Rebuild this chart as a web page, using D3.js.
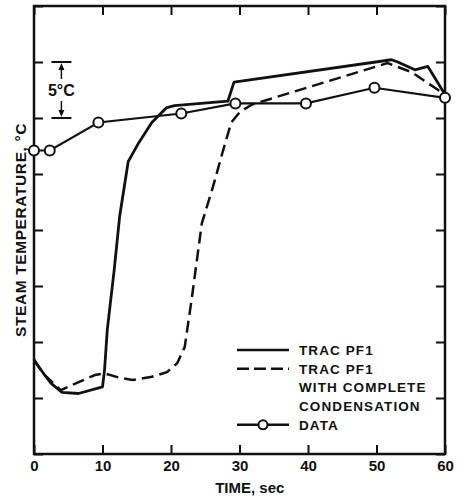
<!DOCTYPE html>
<html>
<head>
<meta charset="utf-8">
<script src="https://cdn.jsdelivr.net/npm/d3@7/dist/d3.min.js"></script>
<style>
  html, body { margin: 0; padding: 0; background: #fff; }
  svg { display: block; }
  text { font-family: "Liberation Sans", Arial, sans-serif; font-weight: bold; fill: #111; }
</style>
</head>
<body>
<svg id="chart" width="465" height="500"></svg>
<script>
// ---- data (time in sec, temperature in °C relative to bottom of frame) ----
const xTickValues = [0, 10, 20, 30, 40, 50, 60];
const yTickValues = [0, 5, 10, 15, 20, 25, 30, 35, 40];

const tracTime = [0, 1.5, 2.5, 4.1, 6.5, 10, 10.3, 10.7, 11.7, 12.5, 13.75, 15.3, 17.2, 19.3, 20.5, 28.3, 29.2, 52.2, 53.1, 55.6, 57.5, 60];
const tracTemp = [8.4, 7.1, 6.3, 5.5, 5.4, 6.0, 7.5, 11.1, 16.4, 21.2, 26.1, 27.8, 29.6, 30.9, 31.1, 31.5, 33.2, 35.2, 35.0, 34.3, 34.6, 32.1];

const condTime = [0, 1.3, 3.9, 6.1, 8.9, 10.3, 12.5, 14.4, 17.2, 19.4, 20.9, 22.0, 23.0, 24.5, 26.1, 27.6, 28.8, 30.0, 31.8, 51.6, 55.1, 59.0, 60];
const condTemp = [8.4, 7.2, 5.7, 6.3, 7.05, 7.2, 6.8, 6.6, 6.9, 7.3, 8.1, 9.55, 13.75, 20.6, 23.8, 27.1, 29.6, 30.5, 31.2, 34.9, 34.1, 32.5, 31.9];

const dataTime = [0, 2.3, 9.4, 21.5, 29.4, 39.7, 49.7, 60];
const dataTemp = [27.1, 27.1, 29.6, 30.4, 31.3, 31.3, 32.7, 31.8];

const legendLabels = [["TRAC PF1"], ["TRAC PF1", "WITH COMPLETE", "CONDENSATION"], ["DATA"]];
const legendStyles = ["solid", "dashed", "data"];

const bracketTime = 4;
const bracketLow = 30;
const bracketHigh = 35;
const bracketLabel = "5°C";

const xTitle = "TIME, sec";
const yTitle = "STEAM TEMPERATURE, °C";

// ---- layout ----
const svg = d3.select("#chart");
const mLeft = 34, mRight = 445, mTop = 6, mBottom = 454;
const x = d3.scaleLinear().domain([0, 60]).range([mLeft, mRight]);
const y = d3.scaleLinear().domain([0, 40]).range([mBottom, mTop]);
const ink = "#111";

// axes: ticks inward on all four sides
const tickLen = 9;
const gB = svg.append("g").attr("transform", `translate(0,${mBottom})`)
  .call(d3.axisBottom(x).tickValues(xTickValues).tickSizeInner(-tickLen).tickSizeOuter(0).tickPadding(6).tickFormat(d3.format("d")));
const gT = svg.append("g").attr("transform", `translate(0,${mTop})`)
  .call(d3.axisTop(x).tickValues(xTickValues).tickSizeInner(-tickLen).tickSizeOuter(0).tickFormat(""));
const gL = svg.append("g").attr("transform", `translate(${mLeft},0)`)
  .call(d3.axisLeft(y).tickValues(yTickValues).tickSizeInner(-tickLen).tickSizeOuter(0).tickFormat(""));
const gR = svg.append("g").attr("transform", `translate(${mRight},0)`)
  .call(d3.axisRight(y).tickValues(yTickValues).tickSizeInner(-tickLen).tickSizeOuter(0).tickFormat(""));
[gB, gT, gL, gR].forEach(g => {
  g.select(".domain").remove();
  g.selectAll(".tick line").attr("stroke", ink).attr("stroke-width", 2);
});
gB.selectAll(".tick text").attr("font-size", 15).attr("font-family", '"Liberation Sans", Arial, sans-serif').attr("font-weight", "bold").attr("fill", ink);

// frame
svg.append("rect").attr("x", mLeft).attr("y", mTop).attr("width", mRight - mLeft).attr("height", mBottom - mTop)
  .attr("fill", "none").attr("stroke", ink).attr("stroke-width", 2.5);

// axis titles
svg.append("text").attr("x", x(31.5)).attr("y", 493).attr("text-anchor", "middle").attr("font-size", 15)
  .text(xTitle);
svg.append("text").attr("transform", `translate(26,${y(20)}) rotate(-90)`).attr("text-anchor", "middle")
  .attr("font-size", 15.5).attr("letter-spacing", 0.6)
  .text(yTitle);

// lines
const line = d3.line().x(d => x(d[0])).y(d => y(d[1]));
const zip = (a, b) => a.map((v, i) => [v, b[i]]);

svg.append("path").datum(zip(condTime, condTemp)).attr("d", line)
  .attr("fill", "none").attr("stroke", ink).attr("stroke-width", 2.5).attr("stroke-dasharray", "12,6");
svg.append("path").datum(zip(tracTime, tracTemp)).attr("d", line)
  .attr("fill", "none").attr("stroke", ink).attr("stroke-width", 2.8).attr("stroke-linejoin", "round");
svg.append("path").datum(zip(dataTime, dataTemp)).attr("d", line)
  .attr("fill", "none").attr("stroke", ink).attr("stroke-width", 2.2);
svg.append("g").selectAll("circle").data(zip(dataTime, dataTemp)).join("circle")
  .attr("cx", d => x(d[0])).attr("cy", d => y(d[1])).attr("r", 5)
  .attr("fill", "#fff").attr("stroke", ink).attr("stroke-width", 2);

// 5°C bracket
const bx = x(bracketTime);
const bw = 10;
const yHi = y(bracketHigh), yLo = y(bracketLow);
const bg = svg.append("g").attr("stroke", ink).attr("stroke-width", 2);
bg.append("line").attr("x1", bx - bw).attr("x2", bx + bw).attr("y1", yHi).attr("y2", yHi);
bg.append("line").attr("x1", bx - bw).attr("x2", bx + bw).attr("y1", yLo).attr("y2", yLo);
const labelY = (yHi + yLo) / 2;
bg.append("line").attr("x1", bx).attr("x2", bx).attr("y1", yHi + 6).attr("y2", labelY - 11).attr("stroke-width", 1.5);
bg.append("line").attr("x1", bx).attr("x2", bx).attr("y1", labelY + 11).attr("y2", yLo - 6).attr("stroke-width", 1.5);
svg.append("path").attr("d", `M${bx},${yHi + 1}L${bx - 3},${yHi + 8}L${bx + 3},${yHi + 8}Z`).attr("fill", ink);
svg.append("path").attr("d", `M${bx},${yLo - 1}L${bx - 3},${yLo - 8}L${bx + 3},${yLo - 8}Z`).attr("fill", ink);
svg.append("text").attr("x", bx).attr("y", labelY + 6).attr("text-anchor", "middle").attr("font-size", 16).text(bracketLabel);

// legend
const lgX1 = 237, lgX2 = 289, lgText = 299;
const rowH = 18.7;
let row = 0;
const legend = svg.append("g");
legendLabels.forEach((labels, i) => {
  const yy = 350 + row * rowH;
  const style = legendStyles[i];
  const ln = legend.append("line").attr("x1", lgX1).attr("x2", lgX2).attr("y1", yy).attr("y2", yy)
    .attr("stroke", ink).attr("stroke-width", 2.5);
  if (style === "dashed") ln.attr("stroke-dasharray", "12,5");
  if (style === "data") {
    legend.append("circle").attr("cx", (lgX1 + lgX2) / 2).attr("cy", yy).attr("r", 4.5)
      .attr("fill", "#fff").attr("stroke", ink).attr("stroke-width", 2);
  }
  labels.forEach((t, j) => {
    legend.append("text").attr("x", lgText).attr("y", yy + 5 + j * rowH)
      .attr("font-size", 13.5).attr("letter-spacing", 1.1).text(t);
  });
  row += labels.length;
});
</script>
</body>
</html>
